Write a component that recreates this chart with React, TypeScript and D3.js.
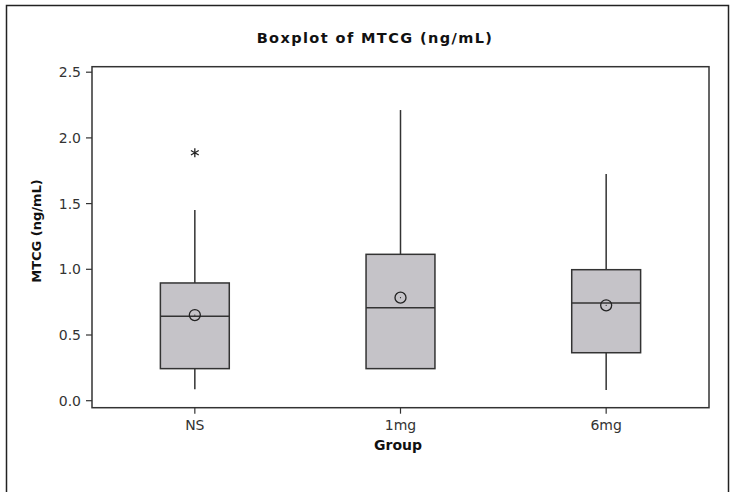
import React from "react";
import * as d3 from "d3";

const groups = ["NS", "1mg", "6mg"];
const whiskerLow = [0.087, 0.244, 0.081];
const q1 = [0.244, 0.244, 0.365];
const median = [0.642, 0.708, 0.744];
const q3 = [0.896, 1.114, 0.997];
const whiskerHigh = [1.451, 2.212, 1.725];
const means = [0.652, 0.784, 0.726];
const outlierGroups = ["NS"];
const outlierValues = [1.887];
const yTicks = [0.0, 0.5, 1.0, 1.5, 2.0, 2.5];

const W = 732;
const H = 492;
const plot = { left: 92, right: 709, top: 66.7, bottom: 407.7 };

export default function App() {
  const x = d3.scaleBand<string>().domain(groups).range([plot.left, plot.right]).padding(0);
  const y = d3.scaleLinear().domain([0, 2.5]).range([400.7, 72.2]);
  const bw = x.bandwidth() * 0.335;
  const stroke = "#333";
  const font = "'DejaVu Sans', sans-serif";

  const star = (cx: number, cy: number, r: number) => {
    const parts: string[] = [];
    for (let i = 0; i < 3; i++) {
      const a = (Math.PI / 3) * i + Math.PI / 2;
      parts.push(`M${cx - r * Math.cos(a)},${cy - r * Math.sin(a)}L${cx + r * Math.cos(a)},${cy + r * Math.sin(a)}`);
    }
    return parts.join("");
  };

  return (
    <svg width={W} height={H} style={{ position: "absolute", left: 0, top: 0, background: "#fff" }}>
      <rect x={6.5} y={5.5} width={722} height={500} fill="#fff" stroke="#222" strokeWidth={1.5} />
      <text x={375} y={43} textAnchor="middle" fontFamily={font} fontWeight="bold" fontSize={14.5}
        letterSpacing={1.4} fill="#111">
        Boxplot of MTCG (ng/mL)
      </text>
      <rect x={plot.left} y={plot.top} width={plot.right - plot.left} height={plot.bottom - plot.top}
        fill="#fff" stroke={stroke} strokeWidth={1.5} />
      {yTicks.map((t) => (
        <g key={t}>
          <line x1={plot.left - 6} x2={plot.left} y1={y(t)} y2={y(t)} stroke={stroke} strokeWidth={1.2} />
          <text x={81} y={y(t)} dy="0.35em" textAnchor="end" fontFamily={font} fontSize={14} fill="#333">
            {d3.format(".1f")(t)}
          </text>
        </g>
      ))}
      {groups.map((g) => {
        const cx = x(g)! + x.bandwidth() / 2;
        return (
          <g key={g}>
            <line x1={cx} x2={cx} y1={plot.bottom} y2={plot.bottom + 6} stroke={stroke} strokeWidth={1.2} />
            <text x={cx} y={430} textAnchor="middle" fontFamily={font} fontSize={14} fill="#333">{g}</text>
          </g>
        );
      })}
      {groups.map((g, i) => {
        const cx = x(g)! + x.bandwidth() / 2;
        return (
          <g key={"b" + g}>
            <line x1={cx} x2={cx} y1={y(q3[i])} y2={y(whiskerHigh[i])} stroke={stroke} strokeWidth={1.5} />
            {whiskerLow[i] < q1[i] && (
              <line x1={cx} x2={cx} y1={y(q1[i])} y2={y(whiskerLow[i])} stroke={stroke} strokeWidth={1.5} />
            )}
            <rect x={cx - bw / 2} y={y(q3[i])} width={bw} height={y(q1[i]) - y(q3[i])}
              fill="#c5c3c8" stroke={stroke} strokeWidth={1.5} />
            <line x1={cx - bw / 2} x2={cx + bw / 2} y1={y(median[i])} y2={y(median[i])} stroke={stroke} strokeWidth={1.5} />
            <circle cx={cx} cy={y(means[i])} r={5.5} fill="none" stroke="#222" strokeWidth={1.3} />
            <circle cx={cx} cy={y(means[i])} r={0.6} fill="#222" />
          </g>
        );
      })}
      {outlierGroups.map((g, i) => {
        const cx = x(g)! + x.bandwidth() / 2;
        return <path key={"o" + i} d={star(cx, y(outlierValues[i]), 4.5)} stroke="#222" strokeWidth={1.3} fill="none" />;
      })}
      <text x={398} y={450} textAnchor="middle" fontFamily={font} fontWeight="bold" fontSize={14} fill="#111">Group</text>
      <text transform={`translate(41, 231) rotate(-90)`} textAnchor="middle"
        fontFamily={font} fontWeight="bold" fontSize={13} fill="#111">MTCG (ng/mL)</text>
    </svg>
  );
}
